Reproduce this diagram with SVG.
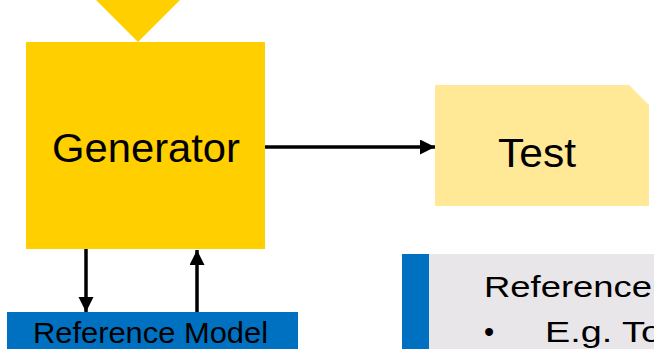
<svg xmlns="http://www.w3.org/2000/svg" width="654" height="349" viewBox="0 0 654 349">
<style>
text{font-family:"Liberation Sans",Arial,sans-serif;fill:#000}
.ln{stroke:#000;stroke-width:3.5;fill:none}
</style>
<defs>
<marker id="ah" markerUnits="userSpaceOnUse" markerWidth="16" markerHeight="16" refX="15" refY="7.5" orient="auto">
<path d="M0,0 L15,7.5 L0,15 Z" fill="#000"/>
</marker>
</defs>
<rect width="654" height="349" fill="#fff"/>
<g id="input">
<polygon points="96,0 180,0 138,42" fill="#FFCF00"/>
</g>
<g id="generator">
<rect x="26" y="42" width="239" height="207" fill="#FFCF00"/>
<text x="146" y="162" font-size="40" text-anchor="middle" textLength="188" lengthAdjust="spacingAndGlyphs">Generator</text>
</g>
<g id="test">
<polygon points="435,85 629,85 649,105 649,206 435,206" fill="#FFE896"/>
<text x="537" y="167" font-size="41" text-anchor="middle" textLength="78" lengthAdjust="spacingAndGlyphs">Test</text>
</g>
<g id="reference-model">
<rect x="7" y="312" width="291" height="37" fill="#0070C0"/>
<text x="33" y="343" font-size="29" textLength="235" lengthAdjust="spacingAndGlyphs">Reference Model</text>
</g>
<g id="note">
<rect x="402" y="254" width="252" height="95" fill="#E8E6E8"/>
<rect x="402" y="254" width="27" height="95" fill="#0070C0"/>
<text x="484" y="297" font-size="29" textLength="168" lengthAdjust="spacingAndGlyphs">Reference</text>
<text x="484" y="342" font-size="29">•</text>
<text x="545" y="342" font-size="29" textLength="117" lengthAdjust="spacingAndGlyphs">E.g. To</text>
</g>
<g id="connectors">
<line class="ln" x1="265" y1="147" x2="435" y2="147" marker-end="url(#ah)"/>
<line class="ln" x1="86" y1="249" x2="86" y2="312" marker-end="url(#ah)"/>
<line class="ln" x1="197" y1="312" x2="197" y2="250" marker-end="url(#ah)"/>
</g>
</svg>
